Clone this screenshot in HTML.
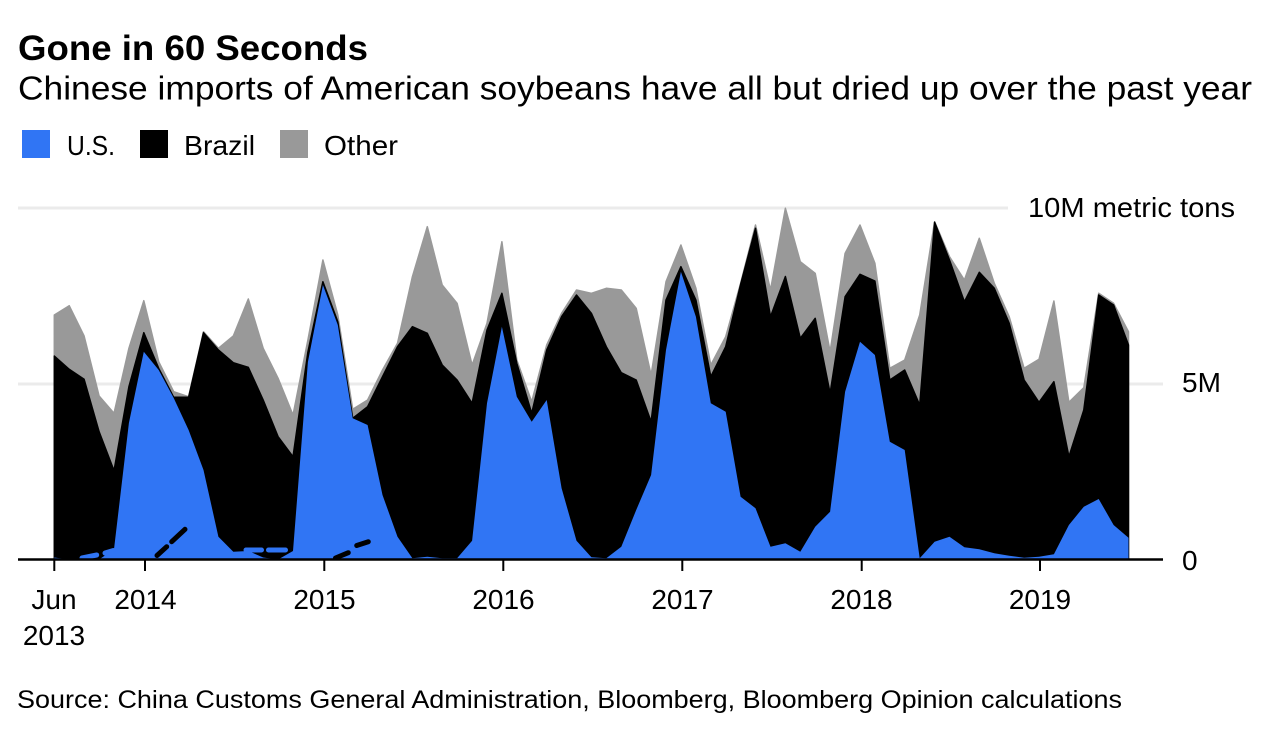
<!DOCTYPE html>
<html>
<head>
<meta charset="utf-8">
<style>
  html,body{margin:0;padding:0;background:#fff;}
  svg{display:block;}
  text{font-family:"Liberation Sans", Arial, sans-serif; fill:#000;}
</style>
</head>
<body>
<svg width="1276" height="754" viewBox="0 0 1276 754" xmlns="http://www.w3.org/2000/svg">
  <rect width="1276" height="754" fill="#fff"/>

  <!-- Title / subtitle -->
  <text x="18" y="60" font-size="35" font-weight="bold" textLength="350" lengthAdjust="spacingAndGlyphs">Gone in 60 Seconds</text>
  <text x="18" y="99.5" font-size="33" textLength="1234" lengthAdjust="spacingAndGlyphs">Chinese imports of American soybeans have all but dried up over the past year</text>

  <!-- Legend -->
  <rect x="22" y="130" width="28" height="28" fill="#3075f4"/>
  <text x="67" y="155" font-size="28" textLength="48" lengthAdjust="spacingAndGlyphs">U.S.</text>
  <rect x="140" y="130" width="28" height="28" fill="#000"/>
  <text x="184" y="155" font-size="28" textLength="71" lengthAdjust="spacingAndGlyphs">Brazil</text>
  <rect x="280" y="130" width="28" height="28" fill="#999"/>
  <text x="324" y="155" font-size="28" textLength="74" lengthAdjust="spacingAndGlyphs">Other</text>

  <!-- Gridlines -->
  <line x1="18" y1="208" x2="1008" y2="208" stroke="#ebebeb" stroke-width="3"/>
  <line x1="18" y1="384" x2="1163" y2="384" stroke="#ebebeb" stroke-width="3"/>

  <!-- Other (gray) -->
  <polygon fill="#999" stroke="#999" stroke-width="1.5" stroke-linejoin="round" points="54.3,559.5 54.3,315 69.2,305.7 84.1,336 99.1,396 114,413.3 128.9,348.3 143.8,300.7 158.7,361.7 173.7,391.7 188.6,396.7 203.5,331.7 218.4,348.3 233.3,336 248.3,299 263.2,348.3 278.1,378.3 293,415 307.9,340 322.9,260 337.8,315 352.7,409.3 367.6,400 382.5,370 397.5,343.3 412.4,276.7 427.3,226.7 442.2,285 457.1,303.3 472.1,365 487,323.3 501.9,241.7 516.8,360 531.7,401.7 546.7,345 561.6,313.3 576.5,290 591.4,293.3 606.3,288.3 621.3,290 636.2,308.3 651.1,375 666,281.7 680.9,245 695.9,288.3 710.8,365 725.7,336.7 740.6,283.3 755.5,225 770.5,290 785.4,208.3 800.3,261.7 815.2,273.3 830.1,351.7 845.1,253.3 860,225 874.9,263.3 889.8,368.3 904.7,360 919.7,315 934.6,221.7 949.5,256.7 964.4,280 979.3,238.3 994.3,283.3 1009.2,316.7 1024.1,368.3 1039,359.3 1053.9,301 1068.9,402.3 1083.8,387.7 1098.7,293.3 1113.6,303.3 1128.5,331.7 1128.5,559.5"/>

  <!-- Brazil (black) -->
  <polygon fill="#000" stroke="#000" stroke-width="1.5" stroke-linejoin="round" points="54.3,559.5 54.3,356 69.2,369.3 84.1,379.3 99.1,431.7 114,470.7 128.9,386.7 143.8,332.7 158.7,368.3 173.7,397.3 188.6,397.3 203.5,332.7 218.4,350 233.3,362.7 248.3,367.3 263.2,400 278.1,436.7 293,456.7 307.9,352 322.9,281.7 337.8,321.7 352.7,418.3 367.6,406.7 382.5,376.7 397.5,346.7 412.4,326.7 427.3,333.3 442.2,365 457.1,380 472.1,403.3 487,330 501.9,293.3 516.8,363.3 531.7,413.3 546.7,350 561.6,316.7 576.5,295 591.4,313.3 606.3,346.7 621.3,372.7 636.2,380 651.1,421.7 666,300 680.9,266.7 695.9,300 710.8,376.7 725.7,346.7 740.6,284.5 755.5,228.3 770.5,316.7 785.4,276.5 800.3,338.3 815.2,318.3 830.1,393.3 845.1,296.7 860,274.3 874.9,281 889.8,380 904.7,370 919.7,405 934.6,222.3 949.5,260 964.4,301.7 979.3,272.3 994.3,288.3 1009.2,323.3 1024.1,380 1039,402.3 1053.9,381.7 1068.9,456.7 1083.8,410 1098.7,295 1113.6,305 1128.5,345 1128.5,559.5"/>

  <!-- U.S. (blue) -->
  <polygon fill="#3075f4" points="54.3,559.5 54.3,557.5 69.2,559.5 84.1,559.5 99.1,559.5 114,549.3 128.9,423 143.8,351.7 158.7,370 173.7,398 188.6,430 203.5,470 218.4,536.7 233.3,551.7 248.3,551 263.2,557.5 278.1,559.5 293,551 307.9,362 322.9,285 337.8,325 352.7,418.3 367.6,425 382.5,495 397.5,536.7 412.4,558.3 427.3,556.7 442.2,558.3 457.1,558.3 472.1,540.7 487,403.3 501.9,326.7 516.8,396.7 531.7,421.7 546.7,400 561.6,488.3 576.5,540.7 591.4,557.3 606.3,558.3 621.3,546.7 636.2,510 651.1,475 666,350 680.9,271.7 695.9,316.7 710.8,403.3 725.7,411.7 740.6,496.7 755.5,508.3 770.5,546.7 785.4,543.3 800.3,551.7 815.2,526.7 830.1,511.7 845.1,391.7 860,341.7 874.9,355 889.8,441.7 904.7,450 919.7,558.3 934.6,541.7 949.5,536.7 964.4,547.3 979.3,549.3 994.3,553.3 1009.2,555.7 1024.1,557.7 1039,556.7 1053.9,554.3 1068.9,525 1083.8,506.7 1098.7,499 1113.6,525 1128.5,537.7 1128.5,559.5"/>

  <!-- Dashed gap segments -->
  <g stroke-linecap="round" stroke-width="5" fill="none">
    <line x1="82" y1="558" x2="96.7" y2="555" stroke="#3075f4"/>
    <line x1="105" y1="553" x2="113.3" y2="550.5" stroke="#3075f4"/>
    <line x1="157" y1="555.5" x2="166.7" y2="546.7" stroke="#000"/>
    <line x1="171.7" y1="541.7" x2="185" y2="529.3" stroke="#000"/>
    <line x1="246" y1="550" x2="261.5" y2="550" stroke="#3075f4"/>
    <line x1="268.5" y1="550" x2="285.5" y2="550" stroke="#3075f4"/>
    <line x1="335.5" y1="558" x2="348.3" y2="552.7" stroke="#000"/>
    <line x1="356.7" y1="545.5" x2="368.3" y2="541.7" stroke="#000"/>
  </g>

  <!-- Axis -->
  <line x1="18" y1="559.5" x2="1163" y2="559.5" stroke="#000" stroke-width="2.5"/>
  <g stroke="#000" stroke-width="2">
    <line x1="54.3" y1="560" x2="54.3" y2="571"/>
    <line x1="145" y1="560" x2="145" y2="571"/>
    <line x1="324.3" y1="560" x2="324.3" y2="571"/>
    <line x1="503.3" y1="560" x2="503.3" y2="571"/>
    <line x1="682.3" y1="560" x2="682.3" y2="571"/>
    <line x1="861.7" y1="560" x2="861.7" y2="571"/>
    <line x1="1040" y1="560" x2="1040" y2="571"/>
  </g>

  <!-- X labels -->
  <g font-size="28" text-anchor="middle">
    <text x="54" y="609">Jun</text>
    <text x="54" y="645">2013</text>
    <text x="145.5" y="609">2014</text>
    <text x="324.5" y="609">2015</text>
    <text x="503.5" y="609">2016</text>
    <text x="682.5" y="609">2017</text>
    <text x="861.5" y="609">2018</text>
    <text x="1040" y="609">2019</text>
  </g>

  <!-- Y labels -->
  <text x="1028" y="217" font-size="28" textLength="207" lengthAdjust="spacingAndGlyphs">10M metric tons</text>
  <text x="1182" y="392" font-size="28">5M</text>
  <text x="1182" y="570" font-size="28">0</text>

  <!-- Source -->
  <text x="17" y="708" font-size="25" textLength="1105" lengthAdjust="spacingAndGlyphs">Source: China Customs General Administration, Bloomberg, Bloomberg Opinion calculations</text>
</svg>
</body>
</html>
